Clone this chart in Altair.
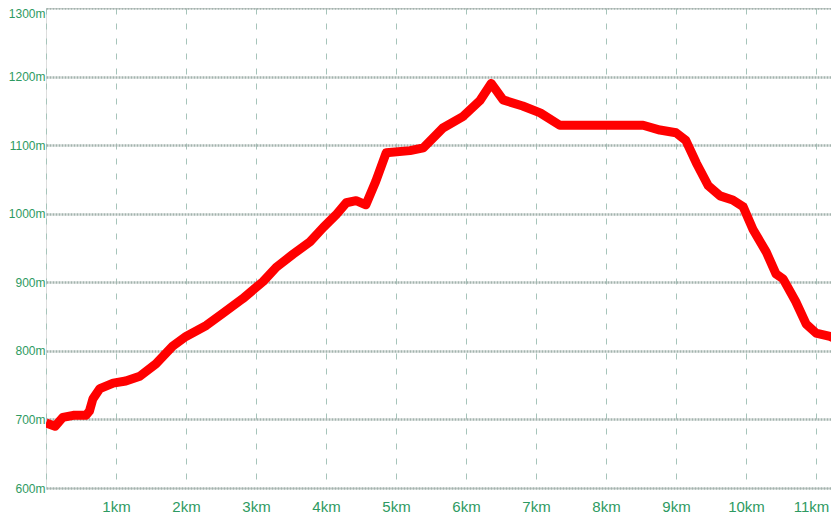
import altair as alt
import pandas as pd

# distance along the route (km) and elevation (m)
km = [0.00, 0.13, 0.24, 0.39, 0.57, 0.62, 0.67, 0.77, 0.96, 1.14, 1.34, 1.57,
      1.81, 2.00, 2.29, 2.53, 2.81, 3.10, 3.29, 3.53, 3.77, 3.96, 4.14, 4.29,
      4.43, 4.57, 4.71, 4.86, 5.20, 5.39, 5.67, 5.96, 6.20, 6.36, 6.53, 6.81,
      7.06, 7.34, 7.57, 8.53, 8.77, 9.00, 9.14, 9.29, 9.46, 9.63, 9.81, 9.96,
      10.10, 10.29, 10.43, 10.53, 10.71, 10.86, 11.00, 11.20, 11.29, 11.37]
elev = [695, 690, 703, 706, 706, 712, 730, 745, 753, 756, 763, 781,
        807, 821, 837, 855, 876, 901, 922, 941, 959, 980, 998, 1016,
        1019, 1013, 1047, 1089, 1092, 1096, 1125, 1142, 1165, 1190, 1166, 1157,
        1147, 1129, 1129, 1129, 1122, 1118, 1107, 1074, 1041, 1026, 1020, 1010,
        977, 944, 912, 905, 872, 839, 826, 821, 817, 800]

x_ticks = list(range(0, 12))
y_ticks = [600, 700, 800, 900, 1000, 1100, 1200, 1300]

df = pd.DataFrame({"km": km, "elev": elev})

FONT = "Liberation Sans, Arial, sans-serif"
GREEN = "#2e9a62"

chart = alt.Chart(df).mark_line(
    color="#ff0000", strokeWidth=9, strokeJoin="round", strokeCap="butt", clip=True
).encode(
    x=alt.X("km:Q",
            scale=alt.Scale(domain=[0, 785 / 70], nice=False, zero=False),
            axis=alt.Axis(values=x_ticks, title=None, domain=False, ticks=False,
                          labelExpr="datum.value == 0 ? '' : datum.value + 'km'",
                          labelFont=FONT, labelFontSize=15, labelColor=GREEN,
                          labelPadding=11, labelFlush=False,
                          labelOffset=alt.condition("datum.value == 11",
                                                    alt.value(-5), alt.value(0)),
                          grid=True, gridColor="#a6c4ba", gridWidth=1,
                          gridDash=[6, 9])),
    y=alt.Y("elev:Q",
            scale=alt.Scale(domain=[600, 1300], nice=False, zero=False),
            axis=alt.Axis(values=y_ticks, title=None, domain=False, ticks=False,
                          labelExpr="datum.value + 'm'",
                          labelFont=FONT, labelFontSize=12, labelColor=GREEN,
                          labelPadding=1, labelAlign="right",
                          labelBaseline=alt.condition("datum.value == 1300",
                                                      alt.value("top"),
                                                      alt.value("middle")),
                          grid=True, gridColor="#a3b3ad", gridWidth=2.5,
                          gridDash=[2, 1])),
).properties(
    width=785,
    height=480,
    autosize=alt.AutoSizeParams(type="none"),
    padding={"left": 38, "top": 0, "right": 0, "bottom": 41},
).configure_view(stroke=None).configure(background="white")

chart.save("out.html", embed_options={"renderer": "svg", "actions": False})
